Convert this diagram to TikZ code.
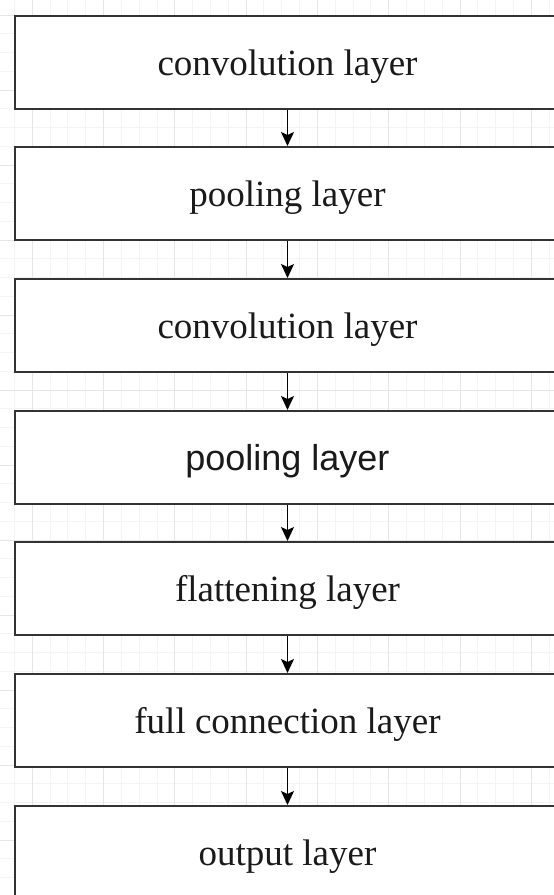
\documentclass[tikz,border=0pt]{standalone}
\usepackage{fontspec}
\setmainfont{Liberation Serif}
\newfontfamily\labelsans{Liberation Sans}
\usetikzlibrary{arrows.meta}
\definecolor{gridmajor}{HTML}{E6E6E6}
\definecolor{gridminor}{HTML}{F4F4F4}
\definecolor{boxline}{HTML}{333333}
\definecolor{labeltext}{HTML}{1A1A1A}
\tikzset{
  layerbox/.style={draw=boxline, line width=2pt, fill=white, anchor=north,
    minimum width=545pt, minimum height=93pt, inner sep=0pt, text depth=0pt,
    text=labeltext, font=\fontsize{37}{44}\selectfont},
  flowarrow/.style={draw=black, line width=1.5pt,
    -{Stealth[length=14pt,width=13pt,inset=3pt]}}
}
\begin{document}
\begin{tikzpicture}[x=1pt,y=-1pt]
  \useasboundingbox (0,0) rectangle (554,895);
  \clip (0,0) rectangle (554,895);
  \fill[white] (0,0) rectangle (554,895);
  % background grid: minor lines, then major lines
  \foreach \k in {-1,...,31} {
    \draw[gridminor, line width=0.6pt] ({32+17.83*\k},0) -- ({32+17.83*\k},895);
  }
  \foreach \k in {-1,...,48} {
    \draw[gridminor, line width=0.6pt] (0,{15+18.75*\k}) -- (554,{15+18.75*\k});
  }
  \foreach \k in {-1,...,8} {
    \draw[gridmajor, line width=0.8pt] ({32+71.33*\k},0) -- ({32+71.33*\k},895);
  }
  \foreach \k in {-1,...,12} {
    \draw[gridmajor, line width=0.8pt] (0,{15+75*\k}) -- (554,{15+75*\k});
  }
  % layer boxes
  \node[layerbox] (conv1) at (287.5,15)  {convolution layer};
  \node[layerbox] (pool1) at (287.5,146) {pooling layer};
  \node[layerbox] (conv2) at (287.5,278) {convolution layer};
  \node[layerbox, font=\labelsans\fontsize{36}{43}\selectfont] (pool2) at (287.5,410) {pooling layer};
  \node[layerbox] (flat)  at (287.5,541) {flattening layer};
  \node[layerbox] (full)  at (287.5,673) {full connection layer};
  \node[layerbox] (out)   at (287.5,805) {output layer};
  % connectors
  \draw[flowarrow] (conv1.south) -- (pool1.north);
  \draw[flowarrow] (pool1.south) -- (conv2.north);
  \draw[flowarrow] (conv2.south) -- (pool2.north);
  \draw[flowarrow] (pool2.south) -- (flat.north);
  \draw[flowarrow] (flat.south)  -- (full.north);
  \draw[flowarrow] (full.south)  -- (out.north);
\end{tikzpicture}
\end{document}
